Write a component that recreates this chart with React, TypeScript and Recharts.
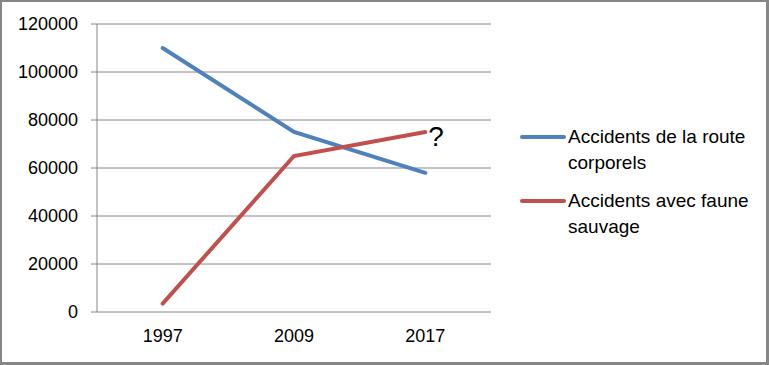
import { LineChart, Line, XAxis, YAxis, CartesianGrid, LabelList } from "recharts";

// values
const years = ["1997", "2009", "2017"];
const routeAccidents = [110000, 75000, 58000];
const wildlifeAccidents = [3500, 65000, 75000];
const notes = ["", "", "?"];
const yTicks = [0, 20000, 40000, 60000, 80000, 100000, 120000];
const boundaryTicks = [0, 1, 2, 3];

const series = [
  { key: "route", name: "Accidents de la route corporels", color: "#4F81BD" },
  { key: "faune", name: "Accidents avec faune sauvage", color: "#C0504D" },
];

const data = years.map((year, i) => ({
  year,
  route: routeAccidents[i],
  faune: wildlifeAccidents[i],
  note: notes[i],
}));

const gray = "#868686";

const renderNote = (props: any) => {
  const { x, y, value } = props;
  if (!value) return null;
  return (
    <text x={x + 3} y={y + 14} fontSize={28} fill="#000">
      {value}
    </text>
  );
};

export default function App() {
  return (
    <div style={{ position: "relative", width: 769, height: 365, background: "#fff", fontFamily: "Liberation Sans" }}>
      <style>{"body{margin:0}"}</style>
      <LineChart width={769} height={365} data={data} margin={{ top: 24, right: 278, bottom: 23, left: 0 }}>
        <CartesianGrid vertical={false} stroke={gray} strokeWidth={1} />
        <XAxis
          xAxisId="edges"
          type="number"
          domain={[0, 3]}
          ticks={boundaryTicks}
          allowDataOverflow
          height={0}
          axisLine={{ stroke: gray }}
          tickLine={{ stroke: gray }}
          tickSize={6}
          tick={() => <g />}
        />
        <XAxis
          xAxisId="cat"
          dataKey="year"
          scale="band"
          height={30}
          axisLine={false}
          tickLine={false}
          tickSize={6}
          tickMargin={11}
          tick={{ fontSize: 18, fill: "#000" }}
        />
        <YAxis
          width={97}
          domain={[0, 120000]}
          ticks={yTicks}
          axisLine={{ stroke: gray }}
          tickLine={{ stroke: gray }}
          tickSize={6}
          tickMargin={13}
          tick={{ fontSize: 18, fill: "#000" }}
        />
        <Line
          xAxisId="cat"
          type="linear"
          dataKey="route"
          name={series[0].name}
          stroke={series[0].color}
          strokeWidth={4}
          strokeLinecap="round"
          dot={false}
          activeDot={false}
          isAnimationActive={false}
        />
        <Line
          xAxisId="cat"
          type="linear"
          dataKey="faune"
          name={series[1].name}
          stroke={series[1].color}
          strokeWidth={4}
          strokeLinecap="round"
          dot={false}
          activeDot={false}
          isAnimationActive={false}
        >
          <LabelList dataKey="note" content={renderNote} />
        </Line>
      </LineChart>

      {/* legend */}
      <div style={{ position: "absolute", left: 520, top: 124, display: "flex", flexDirection: "column", gap: 12 }}>
        {series.map((s) => (
          <div key={s.key} style={{ display: "flex", alignItems: "flex-start" }}>
            <svg width={48} height={26}>
              <line x1={2} x2={44} y1={13} y2={13} stroke={s.color} strokeWidth={4} strokeLinecap="round" />
            </svg>
            <div style={{ width: 190, fontSize: 19, lineHeight: "26px", color: "#000" }}>{s.name}</div>
          </div>
        ))}
      </div>

      <div
        style={{
          position: "absolute",
          inset: 0,
          borderStyle: "solid",
          borderColor: gray,
          borderWidth: "2px 3px 3px 2px",
          pointerEvents: "none",
        }}
      />
    </div>
  );
}
